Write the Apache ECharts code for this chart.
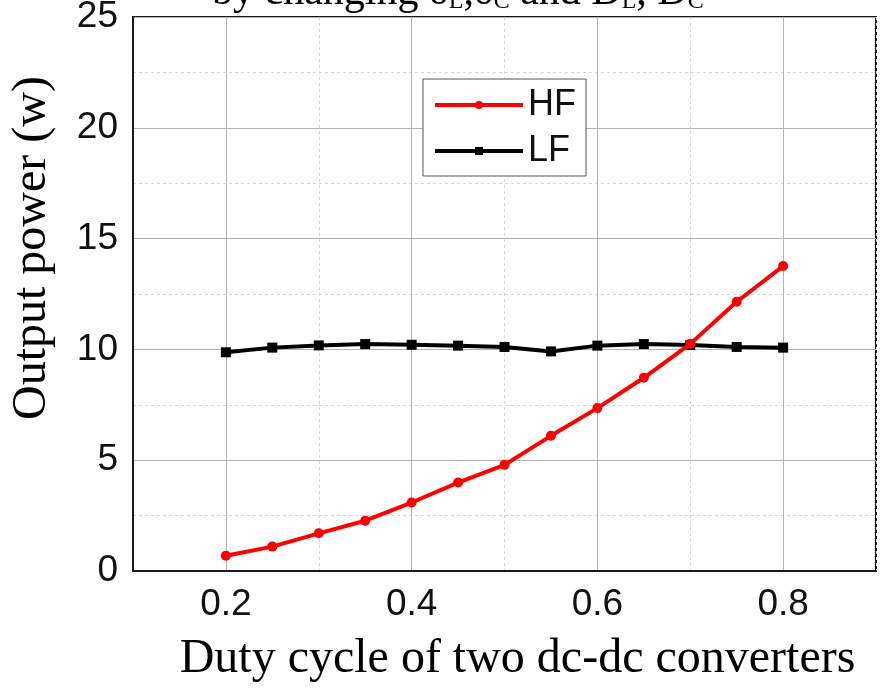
<!DOCTYPE html>
<html>
<head>
<meta charset="utf-8">
<script src="https://cdn.jsdelivr.net/npm/echarts@6/dist/echarts.min.js"></script>
<style>html,body{margin:0;padding:0;background:#fff}#c{width:885px;height:692px}</style>
</head>
<body>
<div id="c"></div>
<script>
var dutyCycle = [0.2, 0.25, 0.3, 0.35, 0.4, 0.45, 0.5, 0.55, 0.6, 0.65, 0.7, 0.75, 0.8];
var hfPower = [0.69, 1.1, 1.70, 2.27, 3.09, 3.99, 4.79, 6.10, 7.35, 8.72, 10.25, 12.15, 13.76];
var lfPower = [9.87, 10.08, 10.18, 10.24, 10.21, 10.17, 10.11, 9.91, 10.17, 10.24, 10.20, 10.11, 10.08];
var xTickLabels = ['0.2', '0.4', '0.6', '0.8'];
var yTickLabels = ['0', '5', '10', '15', '20', '25'];
var xName = 'Duty cycle of two dc-dc converters';
var yName = 'Output power (w)';
var seriesNames = ['HF', 'LF'];

function pairs(xs, ys) { return xs.map(function (x, i) { return [x, ys[i]]; }); }

var chart = echarts.init(document.getElementById('c'));
var sans = 'Liberation Sans, Arial, sans-serif';
var serif = 'Liberation Serif, Times New Roman, serif';
chart.setOption({
  animation: false,
  backgroundColor: '#fff',
  graphic: [{
    type: 'text', left: 212, top: -28,
    style: {
      text: 'by changing δ{s|L},δ{s|C} and D{s|L}, D{s|C}',
      font: '42px ' + serif, fill: '#000',
      rich: { s: { fontSize: 24, fontFamily: serif, verticalAlign: 'bottom', padding: [12, 0, 0, 0] } }
    }
  }],
  grid: { left: 133, right: 9, top: 17, bottom: 121, outerBoundsMode: 'none', containLabel: false, show: true, borderColor: '#1a1a1a', borderWidth: 2, backgroundColor: 'transparent' },
  legend: {
    left: 423, top: 79, orient: 'vertical',
    padding: [8, 10, 7, 10],
    itemWidth: 88, itemHeight: 10, itemGap: 10,
    borderColor: '#555', borderWidth: 1, backgroundColor: '#fff',
    lineStyle: { width: 4 },
    textStyle: { fontFamily: sans, fontSize: 36, color: '#111', lineHeight: 36 },
    data: seriesNames
  },
  xAxis: [{
    type: 'value', min: 0.1, max: 0.9, interval: 0.1,
    axisLine: { show: true, lineStyle: { color: '#1a1a1a', width: 2 } },
    axisTick: { show: false },
    axisLabel: {
      margin: 15, fontFamily: sans, fontSize: 37, color: '#111',
      formatter: function (v) { var s = v.toFixed(1); return xTickLabels.indexOf(s) >= 0 ? s : ''; }
    },
    splitLine: { show: true, lineStyle: { color: '#d6d6d6', type: [3, 3], width: 1 } },
    name: xName, nameLocation: 'middle', nameGap: 64,
    nameTextStyle: { fontFamily: serif, fontSize: 48, color: '#000', padding: [0, 0, 0, 26] }
  }, {
    type: 'value', min: 0.1, max: 0.9, interval: 0.1, position: 'bottom',
    axisLine: { show: false }, axisTick: { show: false }, axisLabel: { show: false },
    splitLine: { show: true, lineStyle: { color: ['rgba(0,0,0,0)', '#b4b4b4'], type: 'solid', width: 1 } }
  }],
  yAxis: [{
    type: 'value', min: 0, max: 25, interval: 5,
    axisLine: { show: true, lineStyle: { color: '#1a1a1a', width: 2 } },
    axisTick: { show: false },
    axisLabel: {
      margin: 15, fontFamily: sans, fontSize: 37, color: '#111',
      formatter: function (v) { var s = String(v); return yTickLabels.indexOf(s) >= 0 ? s : ''; }
    },
    splitLine: { show: true, lineStyle: { color: '#b4b4b4', width: 1 } },
    name: yName, nameLocation: 'middle', nameGap: 77, nameRotate: 90,
    nameTextStyle: { fontFamily: serif, fontSize: 48, color: '#000', padding: [0, 0, 0, 92] }
  }, {
    type: 'value', min: 0, max: 25, interval: 2.5, position: 'left',
    axisLine: { show: false }, axisTick: { show: false }, axisLabel: { show: false },
    splitLine: { show: true, lineStyle: { color: ['rgba(0,0,0,0)', '#d6d6d6'], type: [3, 3], width: 1 } }
  }],
  series: [{
    name: seriesNames[0], type: 'line', xAxisIndex: 0, yAxisIndex: 0,
    data: pairs(dutyCycle, hfPower),
    symbol: 'circle', symbolSize: 10,
    lineStyle: { color: '#ff0000', width: 4 },
    itemStyle: { color: '#ff0000' }, z: 3
  }, {
    name: seriesNames[1], type: 'line', xAxisIndex: 0, yAxisIndex: 0,
    data: pairs(dutyCycle, lfPower),
    symbol: 'rect', symbolSize: 10,
    lineStyle: { color: '#000', width: 4 },
    itemStyle: { color: '#000' }, z: 2
  }]
});
</script>
</body>
</html>
